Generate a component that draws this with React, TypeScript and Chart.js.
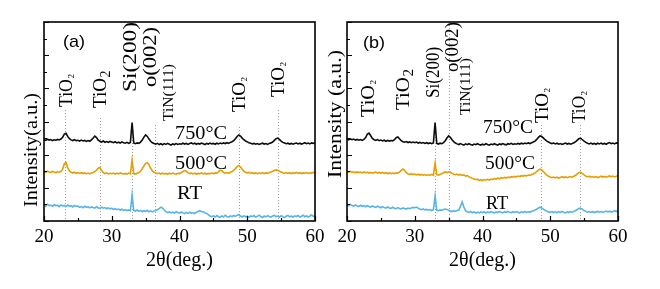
import React, { useEffect, useRef } from 'react';
import { Chart, registerables } from 'chart.js';

Chart.register(...registerables);

// ---------------- DATA ----------------
const twoTheta = [
  20, 20.25, 20.5, 20.75, 21, 21.25, 21.5, 21.75, 22, 22.25, 22.5, 22.75, 23, 23.25, 23.5, 23.75, 24, 24.25, 24.5, 24.75,
  25, 25.25, 25.5, 25.75, 26, 26.25, 26.5, 26.75, 27, 27.25, 27.5, 27.75, 28, 28.25, 28.5, 28.75, 29, 29.25, 29.5, 29.75,
  30, 30.25, 30.5, 30.75, 31, 31.25, 31.5, 31.75, 32, 32.25, 32.5, 32.75, 33, 33.25, 33.5, 33.75, 34, 34.25, 34.5, 34.75,
  35, 35.25, 35.5, 35.75, 36, 36.25, 36.5, 36.75, 37, 37.25, 37.5, 37.75, 38, 38.25, 38.5, 38.75, 39, 39.25, 39.5, 39.75,
  40, 40.25, 40.5, 40.75, 41, 41.25, 41.5, 41.75, 42, 42.25, 42.5, 42.75, 43, 43.25, 43.5, 43.75, 44, 44.25, 44.5, 44.75,
  45, 45.25, 45.5, 45.75, 46, 46.25, 46.5, 46.75, 47, 47.25, 47.5, 47.75, 48, 48.25, 48.5, 48.75, 49, 49.25, 49.5, 49.75,
  50, 50.25, 50.5, 50.75, 51, 51.25, 51.5, 51.75, 52, 52.25, 52.5, 52.75, 53, 53.25, 53.5, 53.75, 54, 54.25, 54.5, 54.75,
  55, 55.25, 55.5, 55.75, 56, 56.25, 56.5, 56.75, 57, 57.25, 57.5, 57.75, 58, 58.25, 58.5, 58.75, 59, 59.25, 59.5, 59.75,
  60,
];

// Panel (a)
const a750 = [
  490, 486, 493, 488, 491, 485, 490, 487, 492, 489, 494, 505, 524, 529, 510, 496, 489, 485, 490, 484,
  487, 482, 488, 483, 486, 480, 485, 481, 489, 500, 512, 503, 488, 481, 476, 482, 475, 479, 474, 480,
  476, 472, 478, 471, 475, 470, 477, 472, 469, 474, 468, 473, 593, 470, 466, 471, 468, 476, 488, 506,
  519, 510, 494, 481, 472, 467, 463, 468, 461, 466, 460, 467, 462, 468, 463, 458, 465, 461, 467, 462,
  466, 463, 469, 464, 468, 462, 467, 471, 465, 469, 463, 468, 464, 470, 466, 461, 468, 464, 470, 465,
  468, 463, 469, 465, 470, 466, 471, 467, 472, 468, 474, 478, 485, 496, 510, 519, 512, 500, 490, 482,
  477, 472, 469, 465, 468, 463, 467, 462, 466, 469, 464, 467, 462, 468, 471, 476, 486, 496, 500, 492,
  482, 474, 470, 466, 469, 464, 468, 463, 467, 470, 465, 469, 464, 468, 472, 466, 470, 465, 471, 468,
  472,
];
const a500 = [
  298, 294, 300, 296, 293, 299, 295, 292, 297, 294, 299, 312, 345, 352, 322, 302, 293, 289, 294, 288,
  292, 287, 291, 286, 290, 285, 289, 284, 290, 293, 298, 306, 318, 322, 305, 292, 286, 290, 284, 288,
  285, 289, 283, 288, 284, 290, 286, 282, 287, 283, 289, 284, 368, 286, 283, 288, 292, 300, 315, 332,
  348, 352, 338, 318, 302, 294, 289, 285, 289, 283, 288, 284, 287, 282, 288, 284, 289, 285, 283, 288,
  286, 291, 298, 304, 300, 292, 286, 289, 284, 288, 283, 287, 285, 290, 284, 288, 283, 287, 285, 289,
  286, 290, 288, 296, 306, 303, 292, 288, 292, 289, 294, 298, 305, 316, 328, 335, 326, 312, 301, 294,
  290, 293, 287, 291, 286, 290, 285, 289, 287, 292, 286, 290, 288, 293, 296, 300, 304, 308, 306, 300,
  296, 291, 288, 292, 287, 291, 286, 290, 288, 293, 287, 291, 286, 290, 288, 292, 287, 291, 289, 293,
  290,
];
const aRT = [
  98, 90, 101, 93, 96, 88, 99, 92, 95, 87, 97, 91, 94, 86, 96, 89, 92, 85, 94, 88,
  90, 83, 87, 80, 89, 82, 86, 79, 85, 81, 78, 86, 80, 75, 83, 77, 81, 74, 79, 73,
  77, 70, 74, 68, 72, 66, 71, 64, 69, 63, 67, 62, 157, 64, 60, 66, 59, 63, 57, 62,
  58, 64, 56, 61, 55, 60, 62, 68, 75, 83, 78, 66, 56, 50, 55, 49, 54, 48, 56, 51,
  47, 54, 49, 45, 52, 46, 53, 48, 51, 45, 53, 58, 62, 57, 55, 50, 46, 38, 30, 26,
  31, 24, 33, 26, 22, 30, 25, 34, 27, 23, 31, 26, 33, 28, 35, 38, 30, 24, 32, 25,
  29, 22, 31, 26, 33, 24, 28, 35, 27, 21, 30, 25, 32, 27, 23, 31, 34, 26, 30, 24,
  32, 26, 21, 29, 34, 25, 30, 23, 31, 27, 33, 24, 29, 35, 26, 31, 24, 30, 36, 28,
  33,
];

// Panel (b)
const b750 = [
  493, 489, 495, 490, 494, 488, 492, 487, 491, 486, 492, 503, 524, 530, 514, 498, 490, 486, 491, 485,
  488, 483, 487, 481, 486, 482, 485, 483, 490, 502, 507, 496, 484, 478, 475, 479, 473, 477, 472, 476,
  472, 476, 470, 474, 469, 473, 468, 472, 467, 471, 466, 470, 593, 468, 464, 469, 466, 473, 484, 500,
  513, 505, 490, 478, 470, 465, 461, 467, 462, 458, 465, 460, 466, 461, 457, 464, 460, 466, 461, 458,
  463, 459, 466, 461, 457, 464, 460, 466, 462, 458, 465, 461, 467, 462, 459, 466, 463, 468, 462, 466,
  463, 468, 464, 469, 465, 470, 466, 471, 467, 472, 476, 482, 492, 504, 513, 510, 500, 490, 482, 476,
  471, 467, 470, 465, 469, 463, 467, 462, 466, 470, 464, 468, 463, 467, 472, 478, 488, 497, 499, 490,
  481, 474, 469, 465, 470, 464, 468, 463, 469, 465, 470, 464, 468, 463, 469, 473, 466, 470, 465, 471,
  468,
];
const b500 = [
  298, 293, 299, 294, 297, 291, 296, 292, 295, 290, 296, 291, 294, 289, 293, 288, 292, 295, 289, 293,
  289, 293, 287, 291, 286, 290, 285, 289, 286, 291, 288, 295, 305, 313, 306, 292, 284, 280, 285, 279,
  283, 278, 282, 277, 281, 276, 280, 275, 279, 276, 281, 277, 348, 279, 276, 282, 285, 291, 296, 292,
  297, 294, 287, 282, 279, 283, 277, 281, 275, 278, 271, 274, 266, 262, 257, 253, 249, 252, 245, 249,
  244, 250, 246, 251, 247, 253, 250, 256, 253, 258, 255, 261, 258, 263, 259, 265, 262, 267, 264, 269,
  266, 271, 268, 273, 270, 275, 272, 277, 275, 280, 284, 290, 298, 307, 313, 308, 297, 286, 277, 270,
  266, 261, 265, 260, 264, 259, 263, 267, 262, 266, 261, 265, 268, 264, 270, 276, 284, 292, 293, 286,
  278, 271, 266, 270, 264, 268, 263, 267, 262, 266, 270, 265, 269, 264, 268, 272, 267, 271, 266, 270,
  272,
];
const bRT = [
  97, 92, 100, 94, 90, 97, 91, 88, 95, 89, 93, 86, 92, 88, 84, 91, 86, 82, 89, 84,
  80, 87, 81, 78, 85, 79, 76, 83, 77, 74, 81, 76, 73, 79, 75, 72, 78, 74, 79, 82,
  80, 84, 78, 72, 68, 73, 67, 70, 65, 69, 63, 68, 151, 66, 62, 67, 64, 69, 72, 70,
  65, 61, 57, 62, 58, 63, 66, 88, 115, 84, 62, 56, 52, 57, 50, 55, 48, 53, 49, 55,
  50, 56, 48, 54, 51, 57, 52, 49, 55, 51, 57, 53, 49, 56, 52, 58, 53, 50, 56, 52,
  57, 53, 49, 55, 51, 57, 52, 56, 54, 59, 62, 66, 71, 78, 83, 79, 71, 64, 59, 55,
  52, 57, 51, 55, 50, 56, 52, 58, 53, 49, 55, 51, 57, 53, 58, 63, 69, 76, 77, 70,
  63, 58, 53, 57, 52, 56, 51, 55, 58, 53, 57, 52, 56, 60, 55, 59, 54, 58, 62, 57,
  63,
];

const xTickStep = 5;
const xMin = 20;
const xMax = 60;
const yMin = 0;
const yMax = 1200;
const yTickStep = 100;

// ---------------- STYLE / ANNOTATIONS ----------------
const SERIF = '"Liberation Serif", "Times New Roman", Times, serif';
const SANS = '"Liberation Sans", Arial, Helvetica, sans-serif';
const COLOR_750 = '#0d0d0d';
const COLOR_500 = '#E69F00';
const COLOR_RT = '#56B4E9';

type RotLabel = { text: string; sub?: string; t: number; v: number; len: number; size: number; subSize?: number };
type HorLabel = { text: string; t: number; v: number; width: number; size: number; family?: string };
type VLine = { t: number; from: number };

interface Panel {
  series: { label: string; data: number[]; color: string }[];
  padRight: number;
  yAxisWidth: number;
  rot: RotLabel[];
  hor: HorLabel[];
  lines: VLine[];
  yTitle: { text: string; dx: number; dyB: number; len: number; size: number };
}

const panelA: Panel = {
  series: [
    { label: '750°C', data: a750, color: COLOR_750 },
    { label: '500°C', data: a500, color: COLOR_500 },
    { label: 'RT', data: aRT, color: COLOR_RT },
  ],
  padRight: 15,
  yAxisWidth: 44,
  rot: [
    { text: 'TiO', sub: '2', t: 23.25, v: 687, len: 28, size: 18.5, subSize: 9 },
    { text: 'TiO', sub: '2', t: 28.27, v: 681, len: 30, size: 18.5, subSize: 14 },
    { text: 'Si(200)', t: 32.69, v: 778, len: 70, size: 18.5 },
    { text: 'o(002)', t: 35.65, v: 808, len: 60, size: 18.5 },
    { text: 'TiN(111)', t: 38.3, v: 603, len: 57, size: 15 },
    { text: 'TiO', sub: '2', t: 48.78, v: 657, len: 30, size: 18.5, subSize: 9 },
    { text: 'TiO', sub: '2', t: 54.54, v: 748, len: 30, size: 18.5, subSize: 9 },
  ],
  hor: [
    { text: '(a)', t: 22.8, v: 1076, width: 22, size: 17, family: SANS },
    { text: '750°C', t: 39.34, v: 525, width: 52, size: 18 },
    { text: '500°C', t: 39.34, v: 344, width: 52, size: 18 },
    { text: 'RT', t: 39.63, v: 163, width: 25, size: 18 },
  ],
  lines: [
    { t: 23.1, from: 669 },
    { t: 28.2, from: 621 },
    { t: 33.0, from: 579 },
    { t: 36.4, from: 579 },
    { t: 48.8, from: 567 },
    { t: 54.5, from: 669 },
  ],
  yTitle: { text: 'Intensity(a.u.)', dx: -13, dyB: -14, len: 114, size: 18 },
};

const panelB: Panel = {
  series: [
    { label: '750°C', data: b750, color: COLOR_750 },
    { label: '500°C', data: b500, color: COLOR_500 },
    { label: 'RT', data: bRT, color: COLOR_RT },
  ],
  padRight: 42,
  yAxisWidth: 25,
  rot: [
    { text: 'TiO', sub: '2', t: 23.1, v: 627, len: 32, size: 18.5, subSize: 9 },
    { text: 'TiO', sub: '2', t: 28.27, v: 669, len: 33, size: 18.5, subSize: 15 },
    { text: 'Si(200)', t: 32.7, v: 742, len: 51, size: 18.5 },
    { text: 'o(002)', t: 35.5, v: 898, len: 50, size: 18.5 },
    { text: 'TiN(111)', t: 37.42, v: 639, len: 57, size: 15 },
    { text: 'TiO', sub: '2', t: 48.78, v: 591, len: 30, size: 18.5, subSize: 9 },
    { text: 'TiO', sub: '2', t: 54.24, v: 591, len: 27, size: 18.5, subSize: 9 },
  ],
  hor: [
    { text: '(b)', t: 22.36, v: 1073, width: 22, size: 17, family: SANS },
    { text: '750°C', t: 40.07, v: 557, width: 50, size: 18 },
    { text: '500°C', t: 40.37, v: 344, width: 50, size: 18 },
    { text: 'RT', t: 40.52, v: 99, width: 22, size: 18 },
  ],
  lines: [
    { t: 33.0, from: 579 },
    { t: 35.0, from: 1200 },
    { t: 48.7, from: 579 },
    { t: 54.4, from: 579 },
  ],
  yTitle: { text: 'Intensity (a.u.)', dx: -12, dyB: -43, len: 128, size: 18 },
};

function drawRot(
  ctx: CanvasRenderingContext2D,
  cx: number,
  y0: number,
  text: string,
  size: number,
  len: number,
  family: string,
  sub?: string,
  subSize?: number
) {
  ctx.save();
  ctx.font = `${size}px ${family}`;
  const w = ctx.measureText(text).width;
  const k = len / w;
  ctx.translate(cx, y0);
  ctx.rotate(-Math.PI / 2);
  ctx.textAlign = 'left';
  ctx.textBaseline = 'alphabetic';
  const base = 0.33 * size;
  ctx.save();
  ctx.scale(k, 1);
  ctx.fillText(text, 0, base);
  ctx.restore();
  if (sub && subSize) {
    ctx.font = `${subSize}px ${family}`;
    ctx.fillText(sub, len + 0.5, base + 0.25 * subSize);
  }
  ctx.restore();
}

function decorPlugin(p: Panel) {
  return {
    id: 'decor',
    beforeDatasetsDraw(chart: any) {
      const { ctx, chartArea } = chart;
      const xs = chart.scales.x;
      const ys = chart.scales.y;
      ctx.save();
      ctx.strokeStyle = '#9a9a9a';
      ctx.lineWidth = 1;
      ctx.setLineDash([1, 2]);
      for (const l of p.lines) {
        const x = Math.round(xs.getPixelForValue(l.t)) + 0.5;
        ctx.beginPath();
        ctx.moveTo(x, Math.max(chartArea.top, ys.getPixelForValue(l.from)));
        ctx.lineTo(x, chartArea.bottom);
        ctx.stroke();
      }
      ctx.restore();
    },
    afterDatasetsDraw(chart: any) {
      const { ctx, chartArea } = chart;
      const xs = chart.scales.x;
      const ys = chart.scales.y;
      const { left, right, top, bottom } = chartArea;
      ctx.save();
      // frame
      ctx.strokeStyle = '#000';
      ctx.lineWidth = 1.6;
      ctx.strokeRect(left, top, right - left, bottom - top);
      // inward ticks
      ctx.lineWidth = 1.2;
      ctx.beginPath();
      for (const tk of ys.ticks) {
        const y = Math.round(ys.getPixelForValue(tk.value)) + 0.5;
        const len = tk.value % 200 === 0 ? 5 : 3;
        ctx.moveTo(left, y);
        ctx.lineTo(left + len, y);
      }
      for (const tk of xs.ticks) {
        const x = Math.round(xs.getPixelForValue(tk.value)) + 0.5;
        const len = tk.value % 10 === 0 ? 5 : 3;
        ctx.moveTo(x, bottom);
        ctx.lineTo(x, bottom - len);
      }
      ctx.stroke();
      ctx.fillStyle = '#000';
      // rotated peak labels
      for (const l of p.rot) {
        drawRot(ctx, xs.getPixelForValue(l.t), ys.getPixelForValue(l.v), l.text, l.size, l.len, SERIF, l.sub, l.subSize);
      }
      // horizontal labels
      for (const l of p.hor) {
        const fam = l.family || SERIF;
        ctx.save();
        ctx.font = `${l.size}px ${fam}`;
        const w = ctx.measureText(l.text).width;
        ctx.translate(xs.getPixelForValue(l.t), ys.getPixelForValue(l.v));
        ctx.scale(l.width / w, 1);
        ctx.textAlign = 'left';
        ctx.textBaseline = 'middle';
        ctx.fillText(l.text, 0, 0);
        ctx.restore();
      }
      // y title
      const yt = p.yTitle;
      drawRot(ctx, left + yt.dx, bottom + yt.dyB, yt.text, yt.size, yt.len, SERIF);
      ctx.restore();
    },
  };
}

function makeConfig(p: Panel): any {
  return {
    type: 'line',
    data: {
      datasets: p.series.map((s) => ({
        label: s.label,
        data: twoTheta.map((x, i) => ({ x, y: s.data[i] })),
        borderColor: s.color,
        borderWidth: 1.6,
        pointRadius: 0,
        tension: 0,
        fill: false,
      })),
    },
    options: {
      animation: false,
      responsive: false,
      devicePixelRatio: 1,
      events: [],
      layout: { padding: { left: 0, right: p.padRight, top: 22, bottom: 0 } },
      plugins: { legend: { display: false }, tooltip: { enabled: false }, title: { display: false } },
      scales: {
        x: {
          type: 'linear',
          min: xMin,
          max: xMax,
          grid: { display: false, drawTicks: false },
          border: { display: false },
          ticks: {
            stepSize: xTickStep,
            autoSkip: false,
            maxRotation: 0,
            padding: 5,
            color: '#000',
            font: { family: SERIF, size: 19 },
            callback: (v: number) => (v % 10 === 0 ? String(v) : ''),
          },
          title: {
            display: true,
            text: '2θ(deg.)',
            color: '#000',
            font: { family: SERIF, size: 20 },
            padding: { top: 0, bottom: 16 },
          },
          afterFit: (s: any) => {
            s.height = 68;
            s.paddingLeft = 0;
            s.paddingRight = 0;
          },
        },
        y: {
          type: 'linear',
          min: yMin,
          max: yMax,
          grid: { display: false, drawTicks: false },
          border: { display: false },
          ticks: { display: false, stepSize: yTickStep },
          afterFit: (s: any) => {
            s.width = p.yAxisWidth;
            s.paddingTop = 0;
            s.paddingBottom = 0;
          },
        },
      },
    },
    plugins: [decorPlugin(p)],
  };
}

export default function App() {
  const refA = useRef<HTMLCanvasElement>(null);
  const refB = useRef<HTMLCanvasElement>(null);
  useEffect(() => {
    const ca = new Chart(refA.current as HTMLCanvasElement, makeConfig(panelA));
    const cb = new Chart(refB.current as HTMLCanvasElement, makeConfig(panelB));
    return () => {
      ca.destroy();
      cb.destroy();
    };
  }, []);
  return (
    <div style={{ position: 'absolute', left: 0, top: 0, width: 660, height: 289, background: '#fff', overflow: 'hidden' }}>
      <canvas ref={refA} width={330} height={289} style={{ position: 'absolute', left: 0, top: 0, width: 330, height: 289 }} />
      <canvas ref={refB} width={338} height={289} style={{ position: 'absolute', left: 322, top: 0, width: 338, height: 289 }} />
    </div>
  );
}
